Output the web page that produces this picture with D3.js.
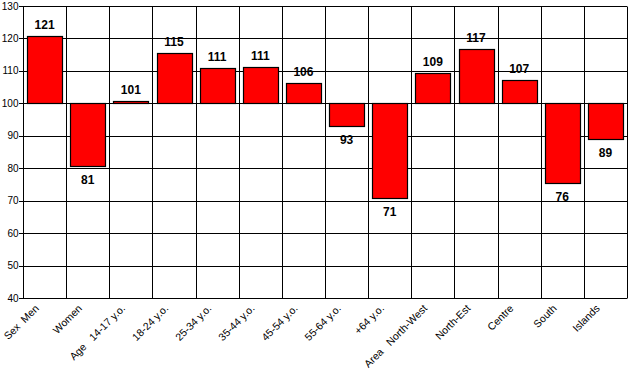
<!DOCTYPE html>
<html>
<head>
<meta charset="utf-8">
<script src="https://cdn.jsdelivr.net/npm/d3@7"></script>
<style>
  body { margin: 0; background: #fff; }
  svg { display: block; font-family: "Liberation Sans", Arial, sans-serif; }
</style>
</head>
<body>
<script>
(function(){

	//categories, rounded labels and bar values
	var categories = ["Sex  Men", "Women", "Age   14-17 y.o.", "18-24 y.o.", "25-34 y.o.", "35-44 y.o.", "45-54 y.o.",
		"55-64 y.o.", "+64 y.o.", "Area   North-West", "North-Est", "Centre", "South", "Islands"];
	var labels = [121, 81, 101, 115, 111, 111, 106, 93, 71, 109, 117, 107, 76, 89];
	var values = [120.7, 80.7, 100.6, 115.4, 110.8, 111.1, 106.3, 93.0, 70.8, 109.4, 116.6, 107.1, 75.4, 88.9];
	var yTicks = [40, 50, 60, 70, 80, 90, 100, 110, 120, 130];
	var baseline = 100;

	var width = 633, height = 381;
	var left = 23, right = 627, top = 6, bottom = 298;

	var svg = d3.select("body").append("svg")
		.attr("width", width)
		.attr("height", height);

	var x = d3.scaleBand()
		.domain(categories)
		.range([left, right])
		.paddingInner(0.19)
		.paddingOuter(0.095);

	var y = d3.scaleLinear()
		.domain([40, 130])
		.range([bottom, top]);

	var step = x.step();

	//horizontal grid lines with little ticks on the left
	svg.selectAll(".hgrid")
		.data(yTicks)
		.enter()
		.append("line")
		.attr("x1", left - 4)
		.attr("x2", right)
		.attr("y1", function(d){ return Math.round(y(d)) + 0.5; })
		.attr("y2", function(d){ return Math.round(y(d)) + 0.5; })
		.attr("stroke", "#000");

	//vertical grid lines at the band edges
	svg.selectAll(".vgrid")
		.data(d3.range(categories.length + 1))
		.enter()
		.append("line")
		.attr("x1", function(i){ return Math.round(left + i * step) + 0.5; })
		.attr("x2", function(i){ return Math.round(left + i * step) + 0.5; })
		.attr("y1", Math.round(y(130)) + 0.5)
		.attr("y2", Math.round(y(40)) + 0.5)
		.attr("stroke", "#000");

	//y tick labels
	svg.selectAll(".ylab")
		.data(yTicks)
		.enter()
		.append("text")
		.attr("x", 18.5)
		.attr("y", function(d){ return y(d) + 3.5; })
		.attr("text-anchor", "end")
		.attr("font-size", "10px")
		.text(function(d){ return d; });

	//bars from the 100 baseline
	svg.selectAll(".bar")
		.data(values)
		.enter()
		.append("rect")
		.attr("x", function(d, i){ return Math.round(x(categories[i])) + 0.5; })
		.attr("y", function(d){ return Math.round(y(Math.max(d, baseline))) + 0.5; })
		.attr("width", Math.round(x.bandwidth()))
		.attr("height", function(d){ return Math.round(Math.abs(y(d) - y(baseline))); })
		.attr("fill", "#ff0000")
		.attr("stroke", "#000")
		.attr("stroke-width", 1.2);

	//value labels above or below the bars
	svg.selectAll(".vlab")
		.data(values)
		.enter()
		.append("text")
		.attr("x", function(d, i){ return x(categories[i]) + x.bandwidth() / 2; })
		.attr("y", function(d){ return d >= baseline ? y(d) - 7 : y(d) + 18; })
		.attr("text-anchor", "middle")
		.attr("font-size", "12px")
		.attr("font-weight", "bold")
		.text(function(d, i){ return labels[i]; });

	//rotated category labels
	svg.selectAll(".xlab")
		.data(categories)
		.enter()
		.append("text")
		.attr("transform", function(d){
			var cx = x(d) + x.bandwidth() / 2 - 5;
			return "translate(" + cx + ",309) rotate(-45)";
		})
		.attr("text-anchor", "end")
		.attr("font-size", "10.5px")
		.style("white-space", "pre")
		.text(function(d){ return d; });

})();
</script>
</body>
</html>
